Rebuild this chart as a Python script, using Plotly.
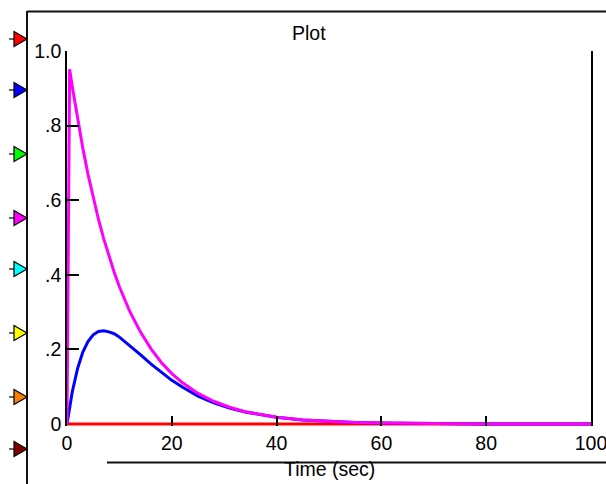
import plotly.graph_objects as go

# ---- data ----
time_sec = [0, 0.5, 1, 2, 3, 4, 5, 6, 7, 8, 9, 10, 12, 14, 16, 18, 20, 22, 25, 28,
            31, 34, 37, 40, 45, 50, 55, 60, 70, 80, 90, 100]
magenta_vals = [0, 0.951, 0.905, 0.819, 0.741, 0.670, 0.607, 0.549, 0.497, 0.449, 0.407,
                0.368, 0.301, 0.247, 0.202, 0.165, 0.135, 0.111, 0.082, 0.061, 0.045,
                0.033, 0.025, 0.018, 0.011, 0.0067, 0.0041, 0.0025, 0.0009, 0.0003,
                0.0001, 0.00005]
blue_vals = [0, 0.046, 0.086, 0.148, 0.192, 0.221, 0.239, 0.248, 0.250, 0.247, 0.242,
             0.233, 0.210, 0.186, 0.161, 0.138, 0.117, 0.099, 0.075, 0.057, 0.043,
             0.032, 0.024, 0.018, 0.011, 0.0066, 0.0041, 0.0025, 0.0009, 0.0003,
             0.0001, 0.00005]
red_vals = [0] * len(time_sec)

x_ticks = [0, 20, 40, 60, 80, 100]
x_ticklabels = ["0", "20", "40", "60", "80", "100"]
y_ticks = [0, 0.2, 0.4, 0.6, 0.8, 1.0]
y_ticklabels = ["0", ".2", ".4", ".6", ".8", "1.0"]
y_minor_ticks = [0.2, 0.4, 0.6, 0.8]

channel_colors = ["#ff0000", "#0000ff", "#00ff00", "#ff00ff",
                  "#00ffff", "#ffff00", "#ff8000", "#800000"]

# ---- figure ----
W, H = 606, 484
FONT = "Arial, 'Liberation Sans', sans-serif"
PX_PER_UNIT_Y = 373.0
Y_PAD = 2.0  # px below zero so the zero line is not clipped


def fx(px):
    return px / W


def fy(py):
    return 1 - py / H


fig = go.Figure()
fig.add_trace(go.Scatter(x=time_sec, y=red_vals, mode="lines",
                         line=dict(color="#ff0000", width=3), hoverinfo="skip"))
fig.add_trace(go.Scatter(x=time_sec, y=blue_vals, mode="lines",
                         line=dict(color="#0000ff", width=3), hoverinfo="skip"))
fig.add_trace(go.Scatter(x=time_sec, y=magenta_vals, mode="lines",
                         line=dict(color="#ff00ff", width=3), hoverinfo="skip"))

shapes = []
# outer frame lines
shapes.append(dict(type="line", xref="paper", yref="paper",
                   x0=fx(27), x1=fx(606), y0=fy(11.5), y1=fy(11.5),
                   line=dict(color="#111111", width=2)))
shapes.append(dict(type="line", xref="paper", yref="paper",
                   x0=fx(27), x1=fx(27), y0=fy(11), y1=fy(484),
                   line=dict(color="#111111", width=2)))
shapes.append(dict(type="line", xref="paper", yref="paper",
                   x0=fx(107), x1=fx(606), y0=fy(462.5), y1=fy(462.5),
                   line=dict(color="#111111", width=2)))

# channel marker triangles on the left frame
marker_y = [39, 90, 154, 218, 269, 333, 397, 449]
for cy, col in zip(marker_y, channel_colors):
    path = "M {:.5f},{:.5f} L {:.5f},{:.5f} L {:.5f},{:.5f} Z".format(
        fx(14), fy(cy - 7.5), fx(27), fy(cy), fx(14), fy(cy + 7.5))
    shapes.append(dict(type="path", xref="paper", yref="paper", path=path,
                       fillcolor=col, line=dict(color="#000000", width=1.2)))
    shapes.append(dict(type="line", xref="paper", yref="paper",
                       x0=fx(9), x1=fx(14), y0=fy(cy), y1=fy(cy),
                       line=dict(color="#000000", width=1.2)))

annotations = [
    dict(text="Plot", xref="paper", yref="paper", x=fx(309), y=fy(33),
         xanchor="center", yanchor="middle", showarrow=False,
         font=dict(family=FONT, size=19.5, color="#000000")),
    dict(text="Time (sec)", xref="paper", yref="paper", x=fx(329), y=fy(469),
         xanchor="center", yanchor="middle", showarrow=False,
         font=dict(family=FONT, size=19.5, color="#000000")),
]

fig.update_layout(
    width=W, height=H,
    margin=dict(l=0, r=0, t=0, b=0, pad=0, autoexpand=False),
    paper_bgcolor="white", plot_bgcolor="white",
    showlegend=False,
    font=dict(family=FONT, size=19.5, color="#000000"),
    shapes=shapes,
    annotations=annotations,
    xaxis=dict(domain=[fx(67), fx(591)], range=[0, 100], showgrid=False,
               automargin=False, ticklabeloverflow="allow", ticklabelstandoff=3,
               zeroline=False, showline=False,
               ticks="inside", ticklen=10, tickwidth=1.5, tickcolor="#000000",
               tickmode="array", tickvals=x_ticks, ticktext=x_ticklabels,
               tickfont=dict(family=FONT, size=19.5, color="#000000")),
    yaxis=dict(domain=[fy(424 + Y_PAD), fy(51)],
               range=[-Y_PAD / PX_PER_UNIT_Y, 1], showgrid=False,
               automargin=False, ticklabeloverflow="allow",
               zeroline=False, showline=True, linecolor="#000000", linewidth=1.5,
               mirror=True,
               ticks="", tickmode="array", tickvals=y_ticks, ticktext=y_ticklabels,
               tickfont=dict(family=FONT, size=19.5, color="#000000"),
               minor=dict(tickmode="array", tickvals=y_minor_ticks, ticks="inside",
                          ticklen=12, tickwidth=1.5, tickcolor="#000000",
                          showgrid=False)),
)

fig.write_html(
    "out.html",
    config={"displayModeBar": False},
    post_script="document.body.style.margin='0';document.body.style.overflow='hidden';",
)
